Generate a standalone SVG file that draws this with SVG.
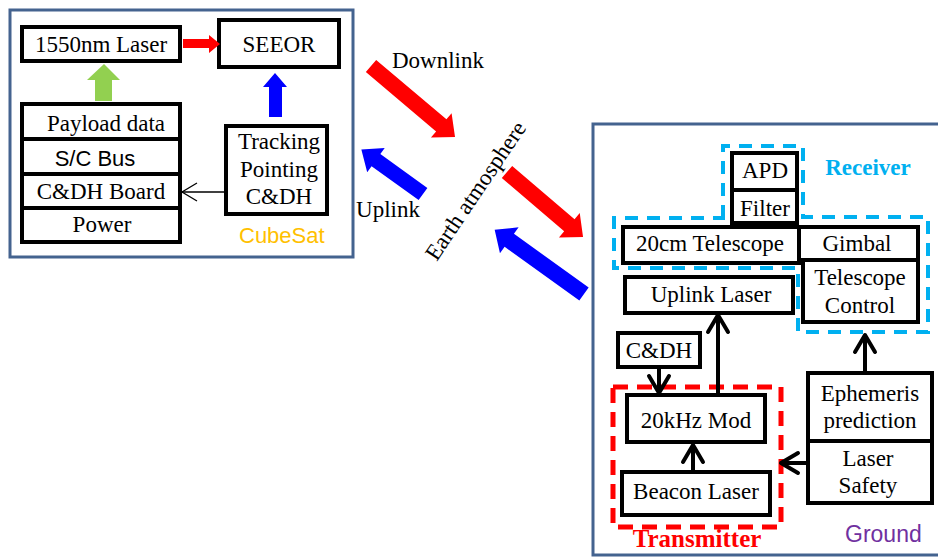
<svg xmlns="http://www.w3.org/2000/svg" width="938" height="557" viewBox="0 0 938 557">
<defs>
<style>
.frame{fill:none;stroke:#44638F;stroke-width:3}
.box{fill:#fff;stroke:#000;stroke-width:4}
.t{font-family:"Liberation Serif","Times New Roman",serif;font-size:23px;fill:#000;text-anchor:middle}
.s{font-family:"Liberation Sans",Arial,sans-serif;font-size:22px;fill:#000}
.conn{fill:none;stroke:#000;stroke-width:4}
</style>
<marker id="chev" markerUnits="userSpaceOnUse" viewBox="-22 -14 26 28" refX="0" refY="0" markerWidth="26" markerHeight="28" orient="auto" overflow="visible">
<path d="M-17,-10 L0,0 L-17,10" fill="none" stroke="#000" stroke-width="4" stroke-linejoin="round" stroke-linecap="round"/>
</marker>
<marker id="thin" markerUnits="userSpaceOnUse" viewBox="-18 -10 20 20" refX="0" refY="0" markerWidth="20" markerHeight="20" orient="auto" overflow="visible">
<path d="M-15,-9 L0,0 L-15,9" fill="none" stroke="#000" stroke-width="1.3"/>
</marker>
</defs>

<g id="cubesat">
<rect class="frame" x="10" y="10" width="343" height="247"/>
<text class="s" x="239" y="243" style="fill:#FFC000">CubeSat</text>
</g>

<g id="laser1550"><rect class="box" x="22" y="27" width="158" height="34"/><text class="t" x="101" y="52">1550nm Laser</text></g>
<g id="seeor"><rect class="box" x="219" y="20" width="120" height="47"/><text class="t" x="279" y="52">SEEOR</text></g>
<g id="payload"><rect class="box" x="22" y="104" width="158" height="35"/><text class="t" x="106" y="131">Payload data</text></g>
<g id="scbus"><rect class="box" x="22" y="139" width="158" height="35"/><text class="s" x="95" y="166" text-anchor="middle">S/C Bus</text></g>
<g id="cdhboard"><rect class="box" x="22" y="174" width="158" height="34"/><text class="t" x="101" y="199">C&amp;DH Board</text></g>
<g id="power"><rect class="box" x="22" y="208" width="158" height="34"/><text class="t" x="102" y="232">Power</text></g>
<g id="tracking"><rect class="box" x="226" y="126" width="101" height="88"/>
<text class="t" x="279" y="149">Tracking</text><text class="t" x="279" y="177">Pointing</text><text class="t" x="279" y="204">C&amp;DH</text></g>

<g id="ground">
<rect class="frame" x="593" y="124" width="360" height="431"/>
<text class="s" x="845" y="542" style="fill:#7030A0;font-size:23px">Ground</text>
</g>

<g id="receiver">
<path d="M723,218 L723,146 L803,146 L803,217 L928,217 L928,332 L798,332 L798,268 L614,268 L614,218 Z" fill="none" stroke="#00B0F0" stroke-width="4" stroke-dasharray="13,9"/>
<text class="t" x="868" y="175" style="fill:#00B0F0;font-weight:bold;font-size:23px">Receiver</text>
</g>
<g id="transmitter">
<rect x="613" y="387" width="168" height="140" fill="none" stroke="#FF0000" stroke-width="5" stroke-dasharray="15,9"/>
<text class="t" x="697" y="547" style="fill:#FF0000;font-weight:bold;font-size:25px">Transmitter</text>
</g>

<g id="apd"><rect class="box" x="732" y="153" width="65" height="37"/><text class="t" x="765" y="178">APD</text></g>
<g id="filter"><rect class="box" x="732" y="190" width="65" height="33"/><text class="t" x="765" y="216">Filter</text></g>
<g id="telescope20"><rect class="box" x="623" y="227" width="176" height="36"/><text class="t" x="710" y="251">20cm Telescope</text></g>
<g id="gimbal"><rect class="box" x="799" y="227" width="119" height="33"/><text class="t" x="857" y="251">Gimbal</text></g>
<g id="telctrl"><rect class="box" x="803" y="260" width="115" height="62"/><text class="t" x="860" y="285">Telescope</text><text class="t" x="860" y="313">Control</text></g>
<g id="uplinklaser"><rect class="box" x="625" y="277" width="168" height="36"/><text class="t" x="711" y="302">Uplink Laser</text></g>
<g id="cdh"><rect class="box" x="618" y="333" width="82" height="34"/><text class="t" x="659" y="358">C&amp;DH</text></g>
<g id="mod"><rect class="box" x="627" y="395" width="138" height="47"/><text class="t" x="696" y="428">20kHz Mod</text></g>
<g id="beacon"><rect class="box" x="622" y="472" width="148" height="43"/><text class="t" x="696" y="499">Beacon Laser</text></g>
<g id="ephemeris"><rect class="box" x="808" y="373" width="124" height="68"/><text class="t" x="870" y="401">Ephemeris</text><text class="t" x="870" y="428">prediction</text></g>
<g id="safety"><rect class="box" x="808" y="441" width="124" height="62"/><text class="t" x="868" y="466">Laser</text><text class="t" x="868" y="493">Safety</text></g>

<g id="links">
<g transform="translate(371,66) rotate(40.2)"><polygon points="0,-8 92,-8 92,-16 110,0 92,16 92,8 0,8" fill="#FF0000"/></g>
<g transform="translate(423,194) rotate(215.8)"><polygon points="0,-7.5 58,-7.5 58,-15 76,0 58,15 58,7.5 0,7.5" fill="#0000FF"/></g>
<g transform="translate(507,172) rotate(40.5)"><polygon points="0,-8 82,-8 82,-16 100,0 82,16 82,8 0,8" fill="#FF0000"/></g>
<g transform="translate(584,294) rotate(215.7)"><polygon points="0,-8 92,-8 92,-16 110,0 92,16 92,8 0,8" fill="#0000FF"/></g>
<text class="t" x="438" y="68">Downlink</text>
<text class="t" x="388" y="217">Uplink</text>
<text class="t" transform="translate(476,191) rotate(-56)" y="7" style="font-size:23px">Earth atmosphere</text>
</g>

<g id="connectors">
<polygon points="183,39 209,39 209,35 220,44 209,53 209,48 183,48" fill="#FF0000"/>
<polygon points="95,101 95,80 87,80 104,64 120,80 112,80 112,101" fill="#92D050"/>
<polygon points="269,117 269,87 263,87 275,73 287,87 282,87 282,117" fill="#0000FF"/>
<line x1="226" y1="192" x2="182" y2="192" stroke="#000" stroke-width="1.3" marker-end="url(#thin)"/>
<line class="conn" x1="659" y1="367" x2="659" y2="393" marker-end="url(#chev)"/>
<line class="conn" x1="718" y1="395" x2="718" y2="315" marker-end="url(#chev)"/>
<line class="conn" x1="693" y1="472" x2="693" y2="445" marker-end="url(#chev)"/>
<line class="conn" x1="865" y1="373" x2="865" y2="335" marker-end="url(#chev)"/>
<line class="conn" x1="808" y1="463" x2="781" y2="463" marker-end="url(#chev)"/>
</g>
</svg>
